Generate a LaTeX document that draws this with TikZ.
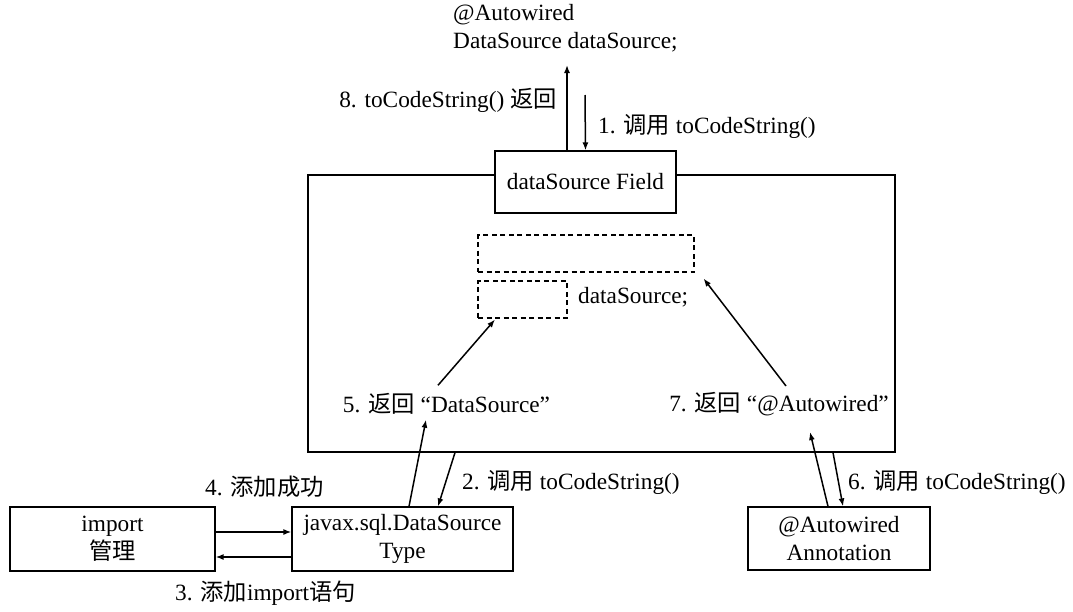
\documentclass[tikz,border=0pt]{standalone}
\usepackage{fontspec}
\setmainfont{Liberation Serif}
\newfontfamily\cjk{Noto Sans CJK SC}
\usetikzlibrary{arrows.meta,calc}
\begin{document}
\begin{tikzpicture}[x=1pt,y=-1pt,
  every node/.style={font=\fontsize{23.3}{28}\selectfont},
  box/.style={draw,line width=1.2pt,fill=white,align=center,inner sep=0pt},
  dbox/.style={draw,line width=1.1pt,dash pattern=on 5pt off 3.5pt,inner sep=0pt},
  lbl/.style={inner sep=0pt},
  arr/.style={line width=1.5pt,-{Latex[length=8pt,width=6pt]}}]
\useasboundingbox (0,0) rectangle (1073,611);
% big container
\node[draw,line width=1.2pt,minimum width=587pt,minimum height=277pt,inner sep=0pt] (big) at (601.5,313.5) {};
\node[box,minimum width=181pt,minimum height=62pt] (field) at (585.5,182) {dataSource Field};
\node[lbl,anchor=north west,align=left] (top) at (453,4) {@Autowired\\DataSource dataSource;};
\node[dbox,minimum width=216pt,minimum height=37pt] (d1) at (586,253.5) {};
\node[dbox,minimum width=89pt,minimum height=37pt] (d2) at (522.5,299.5) {};
\node[lbl,anchor=west] (ds) at (578,297) {dataSource;};
\node[lbl] (l5) at (446.5,404) {5. {\cjk 返回} “DataSource”};
\node[lbl] (l7) at (779,404) {7. {\cjk 返回} “@Autowired”};
\node[lbl,anchor=east] (l8) at (557,100) {8. toCodeString() {\cjk 返回}};
\node[lbl,anchor=west] (l1) at (598,126) {1. {\cjk 调用} toCodeString()};
\node[lbl,anchor=west] (l2) at (462,482) {2. {\cjk 调用} toCodeString()};
\node[lbl,anchor=west] (l4) at (205,487) {4. {\cjk 添加成功}};
\node[lbl,anchor=west] (l3) at (175,593) {3. {\cjk 添加}import{\cjk 语句}};
\node[lbl,anchor=west] (l6) at (848,482) {6. {\cjk 调用} toCodeString()};
\node[box,minimum width=205pt,minimum height=64pt] (imp) at (112.5,539) {import\\{\cjk 管理}};
\node[box,minimum width=221pt,minimum height=64pt] (jav) at (402.5,539) {javax.sql.DataSource\\Type};
\node[box,minimum width=182pt,minimum height=63pt] (aut) at (839,538.5) {@Autowired\\Annotation};
\coordinate (topA) at (567,65);
\coordinate (topB) at (585,95);
% arrows top
\draw[arr] ([xshift=-18.5pt]field.north) -- (topA);
\draw[arr] (topB) -- (field.north);
% big -> javax, javax -> l5
\draw[arr] ([xshift=-146.5pt]big.south) -- ([xshift=35.5pt]jav.north);
\draw[arr] ([xshift=6.5pt]jav.north) -- ([xshift=-20.5pt,yshift=-5pt]l5.south);
\draw[arr] ([xshift=-8.5pt,yshift=8pt]l5.north) -- ([xshift=-27.5pt,yshift=-1pt]d2.south);
% import <-> javax
\draw[arr] ([yshift=7pt]imp.east) -- ([yshift=7pt]jav.west);
\draw[arr] ([yshift=-18pt]jav.west) -- ([yshift=-18pt]imp.east);
% autowired
\draw[arr] ([xshift=-11pt]aut.north) -- ([xshift=31pt,yshift=-16pt]l7.south);
\draw[arr] ([xshift=231.5pt]big.south) -- ([xshift=4pt]aut.north);
\draw[arr] ([xshift=7pt,yshift=6pt]l7.north) -- ([xshift=9pt,yshift=-6pt]d1.south east);
\end{tikzpicture}
\end{document}
